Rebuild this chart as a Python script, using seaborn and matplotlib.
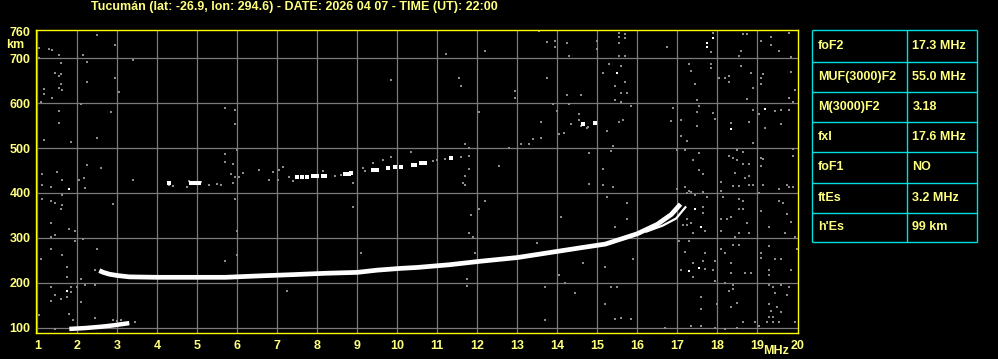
import matplotlib
matplotlib.use("Agg")
import matplotlib.pyplot as plt
import pandas as pd
import seaborn as sns

# ---------------- data ----------------
title = "Tucumán (lat: -26.9, lon: 294.6) - DATE: 2026 04 07 - TIME (UT): 22:00"
x_ticks = list(range(1, 21))
y_ticks = [100, 200, 300, 400, 500, 600, 700, 760]

# F2 ordinary trace
f2_freq = [2.55, 2.65, 2.8, 3.0, 3.3, 4.0, 5.0, 5.7, 6.5, 7.4, 8.2, 9.0, 9.5, 10.1, 10.5,
           11.3, 12.1, 13.0, 13.8, 14.6, 15.2, 16.0, 16.5, 16.85, 17.08]
f2_height = [227, 223, 219, 216, 213, 212, 212, 212, 215, 218, 221, 223, 228, 232, 234,
             240, 248, 256, 267, 278, 286, 309, 330, 352, 375]
# extraordinary branch near the cusp
fx_freq = [16.2, 16.63, 16.97, 17.22]
fx_height = [313, 327, 343, 370]
# sporadic E
es_freq = [1.8, 2.2, 2.6, 2.9, 3.3]
es_height = [97, 99, 102, 105, 110]
# second-hop echoes (white fragments)
hop_freq = [4.3, 4.85, 4.95, 5.05, 7.5, 7.62, 7.75, 7.88, 8.0, 8.13, 8.2, 8.7, 8.8, 8.85,
            9.4, 9.5, 9.77, 9.95, 10.1, 10.38, 10.45, 10.6, 10.7, 11.34, 14.65, 14.93]
hop_height = [421, 421, 422, 421, 436, 436, 436, 437, 437, 437, 437, 443, 443, 444,
              451, 452, 455, 457, 458, 463, 463, 467, 467, 477, 553, 556]
# grey echoes / noise
noise_freq = [2.48, 2.93, 1.03, 1.38, 1.30, 1.53, 2.13, 1.03, 3.38, 1.58, 2.23, 1.45, 1.58, 1.53,
              2.93, 2.23, 1.58, 1.53, 1.18, 1.63, 3.03, 1.18, 1.38, 1.08, 2.08, 1.53, 2.83, 1.53,
              2.48, 1.18, 1.83, 5.68, 5.68, 5.68, 2.23, 2.58, 1.13, 1.48, 1.63, 2.17, 2.03, 3.38,
              1.13, 1.33, 2.18, 1.63, 1.13, 1.33, 1.43, 1.63, 1.58, 2.88, 1.33, 1.93, 1.78, 1.43,
              1.33, 2.13, 1.93, 1.33, 2.48, 1.63, 5.68, 1.08, 1.73, 2.43, 1.73, 2.08, 1.33, 1.83,
              1.98, 2.18, 2.43, 1.83, 1.43, 1.58, 1.33, 1.73, 2.08, 1.78, 1.05, 1.88, 1.43, 2.43,
              3.43, 2.9, 3.0, 2.75, 3.1, 4.3, 4.4, 4.8, 5.1, 5.3, 5.5, 5.6, 4.75,
              9.83, 5.93, 5.93, 5.98, 10.34, 5.88, 5.83, 6.13, 5.93, 6.03, 5.88, 6.53, 6.88, 7.03,
              7.13, 6.78, 7.01, 7.28, 8.88, 5.93, 8.88, 5.98, 5.98, 9.08, 7.23, 8.13, 9.13, 9.38,
              9.63, 9.83, 7.4, 8.45, 8.6, 9.2,
              13.53, 13.73, 13.93, 14.23, 13.93, 11.22, 12.18, 14.28, 14.98, 14.98, 15.13, 11.53,
              13.73, 11.58, 12.93, 12.93, 14.23, 14.58, 12.03, 13.88, 14.28, 13.98, 13.58, 14.53,
              14.53, 14.33, 14.73, 11.68, 11.78, 14.78, 11.78, 11.58, 11.18, 10.98, 10.88, 12.53,
              11.78, 15.13, 11.68, 11.63, 11.68, 14.78, 15.13, 12.18, 12.03, 11.83, 14.08, 11.78,
              11.88, 13.48, 11.93, 14.63, 15.18, 14.03, 11.73, 11.73, 14.18, 13.68, 14.43, 15.18,
              13.68, 12.8, 13.1, 13.3, 13.4, 13.6, 14.05, 14.17, 14.6, 14.77,
              15.53, 15.68, 15.53, 15.68, 15.53, 17.88, 18.63, 18.73, 19.33, 19.33, 19.78, 19.53,
              16.73, 17.83, 18.58, 18.53, 19.08, 15.53, 15.68, 19.83, 15.28, 15.58, 17.28, 17.33,
              17.83, 17.83, 18.58, 18.83, 19.13, 19.83, 18.03, 18.18, 18.28, 18.28, 19.08, 15.68,
              17.43, 19.08, 15.43, 18.88, 19.93, 15.58, 15.73, 15.43, 15.58, 17.48, 18.73, 19.78,
              19.88, 15.83, 16.88, 17.53, 18.88, 19.43, 19.58, 19.78, 19.03, 17.48, 17.88, 16.83,
              17.93, 15.63, 15.53, 17.08, 18.33, 18.78, 19.58, 17.48, 19.18, 15.23, 17.08, 18.88,
              17.23, 15.38, 15.33, 16.98, 17.18, 17.53, 18.48, 18.63, 19.88, 19.88, 18.28, 18.38,
              18.48, 19.08, 19.13, 17.38, 18.63, 18.78, 19.08, 17.53, 17.63, 18.43, 18.08, 18.38,
              18.53, 18.68, 18.78, 18.78, 18.88, 19.13, 17.18, 17.0, 15.38, 19.73, 19.78, 19.88,
              19.53, 18.08, 17.28, 17.23, 17.33, 17.63, 17.43, 19.03, 17.73, 18.13, 18.53, 18.63,
              15.23, 15.73, 19.53, 19.63, 17.63, 17.63, 18.53, 18.63, 19.08, 19.73, 18.23, 18.08,
              18.33, 17.23, 17.33, 17.23, 17.13, 18.73, 19.28, 19.83, 15.73, 17.68, 18.08, 17.38,
              18.53, 18.78, 19.68, 19.93, 18.43, 15.43, 17.03, 17.28, 18.38, 18.53, 18.08, 17.18,
              17.68, 18.18, 19.08, 19.08, 19.28, 19.98, 15.88, 17.63, 17.38, 17.93, 18.33, 19.43,
              19.58, 17.08, 17.68, 17.88, 18.33, 18.68, 18.83, 19.28, 19.28, 19.83, 17.38, 17.93,
              18.18, 18.38, 19.28, 19.38, 19.58, 19.78, 15.33, 15.48, 18.38, 18.28, 19.43, 19.73,
              18.0, 18.48, 19.28, 19.48, 19.58, 19.33, 18.33, 17.58, 19.28, 19.38, 15.43, 15.58,
              15.83, 18.63, 18.93, 19.23, 19.38, 19.53, 19.93, 17.33, 17.58, 17.93, 18.18, 18.48,
              19.03, 16.68, 17.58]
noise_height = [752, 730, 722, 718, 721, 708, 708, 700, 696, 689, 692, 666, 665, 660,
                656, 647, 643, 634, 632, 629, 625, 620, 611, 603, 598, 583, 580, 556,
                522, 518, 513, 589, 487, 469, 463, 455, 442, 446, 429, 433, 429, 429,
                417, 414, 412, 396, 387, 382, 378, 374, 365, 376, 332, 316, 319, 307,
                301, 298, 293, 275, 275, 262, 249, 253, 235, 228, 213, 208, 191, 191,
                191, 195, 194, 179, 173, 164, 160, 168, 157, 131, 127, 116, 96, 122,
                112, 118, 114, 104, 116, 418, 416, 427, 425, 418, 420, 417, 414,
                652, 585, 553, 495, 492, 464, 443, 445, 435, 435, 423, 451, 446, 451,
                457, 429, 429, 435, 423, 387, 369, 316, 262, 267, 182, 449, 455, 466,
                473, 481, 426, 437, 440, 448,
                761, 737, 739, 735, 726, 710, 717, 704, 739, 721, 667, 655,
                655, 639, 626, 612, 617, 619, 581, 598, 598, 583, 559, 576,
                562, 554, 545, 509, 500, 490, 482, 481, 476, 473, 470, 460,
                454, 454, 437, 423, 418, 420, 418, 382, 365, 351, 347, 311,
                302, 289, 267, 243, 235, 217, 209, 192, 200, 191, 177, 152,
                116, 500, 509, 510, 521, 522, 531, 533, 549, 546,
                757, 753, 747, 744, 735, 757, 753, 753, 748, 730, 757, 715,
                726, 713, 715, 705, 739, 705, 704, 702, 687, 683, 687, 672,
                687, 678, 683, 666, 665, 670, 656, 656, 661, 647, 656, 647,
                643, 643, 638, 634, 629, 622, 622, 607, 603, 606, 610, 612,
                603, 594, 589, 594, 585, 582, 585, 585, 576, 580, 577, 561,
                565, 562, 558, 562, 556, 558, 554, 549, 545, 539, 527, 512,
                516, 504, 494, 496, 496, 490, 496, 491, 497, 482, 482, 478,
                473, 478, 475, 473, 464, 464, 460, 451, 442, 444, 424, 415,
                415, 433, 437, 418, 418, 418, 414, 409, 414, 418, 414, 414,
                409, 405, 405, 400, 402, 403, 396, 400, 391, 391, 387, 382,
                391, 377, 382, 378, 369, 356, 365, 365, 360, 353, 342, 342,
                347, 342, 333, 329, 329, 333, 325, 336, 342, 316, 316, 311,
                310, 311, 311, 302, 302, 325, 293, 293, 284, 284, 275, 269,
                266, 266, 266, 255, 281, 275, 253, 249, 244, 249, 244, 253,
                253, 228, 231, 228, 222, 222, 222, 229, 217, 228, 213, 204,
                200, 195, 195, 191, 195, 191, 191, 191, 185, 182, 177, 173,
                153, 155, 153, 146, 134, 137, 145, 142, 124, 124, 119, 122,
                119, 112, 113, 112, 112, 112, 112, 103, 103, 99, 97, 100,
                104, 100, 168]
white_freq = [1.78, 1.73, 15.48, 17.73, 17.73, 17.88, 19.18, 18.33, 17.43, 17.58, 17.53, 17.28]
white_height = [408, 182, 668, 735, 726, 744, 588, 543, 365, 325, 232, 227]

table_params = ["foF2", "MUF(3000)F2", "M(3000)F2", "fxI", "foF1", "ftEs", "h'Es"]
table_values = ["17.3 MHz", "55.0 MHz", "3.18", "17.6 MHz", "NO", "3.2 MHz", "99 km"]

# ---------------- style ----------------
W, H = 998, 359
YEL = "#FFFF80"
FRAME = "#FFFF00"
GRID = "#7a7a7a"
CYAN = "#00E0E0"
sns.set_theme(style="dark", rc={"axes.facecolor": "black", "figure.facecolor": "black",
                                "savefig.facecolor": "black"})
plt.rcParams["font.family"] = ["Liberation Sans", "DejaVu Sans"]
FS = 9.0

fig = plt.figure(figsize=(W / 100, H / 100), dpi=100)
ax = fig.add_axes([36 / W, 1 - 333.3 / H, (797.7 - 36) / W, (333.3 - 29.5) / H])
ax.set_facecolor("black")

noise_df = pd.DataFrame({"f": noise_freq, "h": noise_height})
white_df = pd.DataFrame({"f": white_freq, "h": white_height})
hop_df = pd.DataFrame({"f": hop_freq, "h": hop_height})
f2_df = pd.DataFrame({"f": f2_freq, "h": f2_height})
fx_df = pd.DataFrame({"f": fx_freq, "h": fx_height})
es_df = pd.DataFrame({"f": es_freq, "h": es_height})

ax.set_xlim(0.9675, 20.01)
ax.set_ylim(87.3, 764)
ax.set_xticks(x_ticks)
ax.set_yticks(y_ticks)
ax.grid(False)
for v in x_ticks[:-1]:
    ax.axvline(v, color=GRID, lw=0.9, zorder=1)
for v in y_ticks[:-1]:
    ax.axhline(v, color=GRID, lw=0.9, zorder=1)

sns.scatterplot(data=noise_df, x="f", y="h", ax=ax, color="#8c8c8c", marker="s",
                s=2.6, linewidth=0, zorder=2)
sns.scatterplot(data=white_df, x="f", y="h", ax=ax, color="white", marker="s",
                s=3.0, linewidth=0, zorder=3)
sns.scatterplot(data=hop_df, x="f", y="h", ax=ax, color="white", marker="s",
                s=5.0, linewidth=0, zorder=3)
for df, lw in ((f2_df, 3.4), (fx_df, 1.6), (es_df, 3.2)):
    sns.lineplot(data=df, x="f", y="h", ax=ax, color="white", lw=lw, sort=False,
                 estimator=None, zorder=4, solid_capstyle="butt", solid_joinstyle="miter")

ax.set_xlabel("")
ax.set_ylabel("")
ax.tick_params(axis="both", length=0, colors=YEL, labelsize=FS)
ax.tick_params(axis="x", pad=5)
ax.tick_params(axis="y", pad=4)
ax.set_xticklabels([str(t) for t in x_ticks], fontweight="bold", color=YEL, fontsize=FS)
ax.set_yticklabels([str(t) for t in y_ticks], fontweight="bold", color=YEL, fontsize=FS)
for sp in ax.spines.values():
    sp.set_color(FRAME)
    sp.set_linewidth(1.0)
    sp.set_visible(True)

fig.text(294.5 / W, 1 - 7 / H, title, color=YEL, fontsize=FS, fontweight="bold",
         ha="center", va="center")
fig.text(6 / W, 1 - 45 / H, "km", color=YEL, fontsize=FS, fontweight="bold",
         ha="left", va="center")
fig.text(788.5 / W, 1 - 351.5 / H, "MHz", color=YEL, fontsize=FS, fontweight="bold",
         ha="right", va="center")

# ---------------- table ----------------
tx0, tx1, txm = 812, 977, 907
row_y = [30, 61.7, 91.7, 121.7, 151.7, 182.7, 212.7, 242.3]
tax = fig.add_axes([tx0 / W - 0.002, 1 - 244 / H, (tx1 - tx0) / W + 0.004, (244 - 28) / H])
tax.set_xlim(tx0 - 2, tx1 + 2)
tax.set_ylim(244, 28)
tax.axis("off")
for yv in row_y:
    tax.plot([tx0, tx1], [yv, yv], color=CYAN, lw=1.0, solid_capstyle="butt")
for xv in (tx0, txm, tx1):
    tax.plot([xv, xv], [row_y[0], row_y[-1]], color=CYAN, lw=1.0, solid_capstyle="butt")
for i, (p, v) in enumerate(zip(table_params, table_values)):
    yc = (row_y[i] + row_y[i + 1]) / 2
    tax.text(817.7, yc, p, color=YEL, fontsize=FS, fontweight="bold", ha="left", va="center")
    tax.text(912.3, yc, v, color=YEL, fontsize=FS, fontweight="bold", ha="left", va="center")

fig.savefig("out.png", dpi=100, facecolor="black")
